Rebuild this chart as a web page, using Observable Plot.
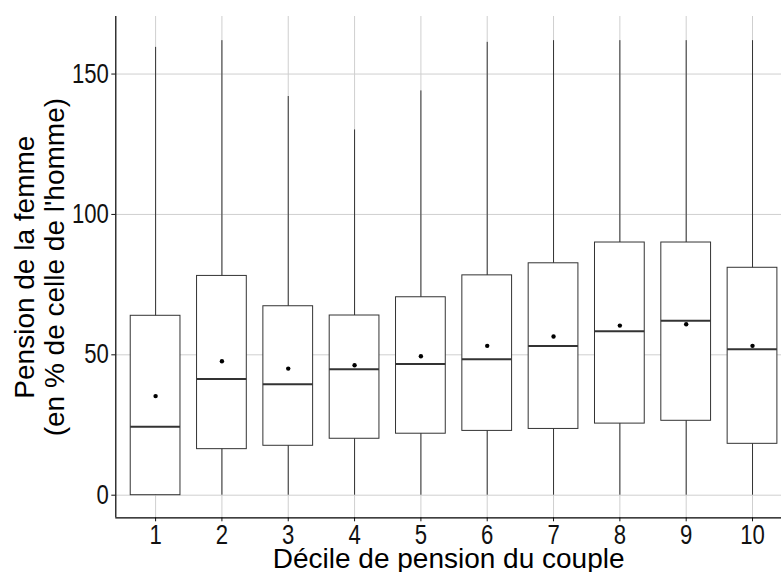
<!DOCTYPE html>
<html>
<head>
<meta charset="utf-8">
<script src="https://cdn.jsdelivr.net/npm/d3@7"></script>
<script src="https://cdn.jsdelivr.net/npm/@observablehq/plot@0.6"></script>
<style>
  html, body { margin: 0; padding: 0; background: #fff; overflow: hidden; }
  #chart svg { display: block; }
</style>
</head>
<body>
<div id="chart"></div>
<script>
const deciles = [1, 2, 3, 4, 5, 6, 7, 8, 9, 10];
const whiskerLow = [0, 0, 0, 0, 0, 0, 0, 0, 0, 0];
const q1 = [0, 16.4, 17.6, 20.1, 21.9, 22.9, 23.6, 25.5, 26.5, 18.3];
const median = [24.4, 41.4, 39.5, 44.9, 46.7, 48.4, 53.1, 58.4, 62.1, 52.0];
const q3 = [63.9, 78.1, 67.3, 64.0, 70.5, 78.3, 82.6, 90.0, 90.0, 81.0];
const whiskerHigh = [159.5, 161.9, 142.0, 130.1, 144.0, 161.3, 161.9, 161.9, 161.9, 161.9];
const mean = [35.3, 47.7, 45.1, 46.3, 49.5, 53.2, 56.5, 60.4, 60.9, 53.2];
const yTicks = [0, 50, 100, 150];
const xLabel = "Décile de pension du couple";
const yLabel1 = "Pension de la femme";
const yLabel2 = "(en % de celle de l'homme)";

const rows = deciles.map((d, i) => ({
  d, lo: whiskerLow[i], q1: q1[i], med: median[i], q3: q3[i], hi: whiskerHigh[i], mean: mean[i]
}));

const half = 0.375;
const xMin = 0.4, xMax = 10.437;
const yMin = -8.05, yMax = 170.5;
const titleFont = "'Liberation Sans', Arial, sans-serif";

const chart = Plot.plot({
  width: 781,
  height: 572,
  marginLeft: 115.3,
  marginRight: 0,
  marginTop: 16,
  marginBottom: 54.7,
  style: { fontFamily: titleFont, fontSize: "27px", color: "#111", background: "#fff" },
  x: { type: "linear", domain: [xMin, xMax], ticks: deciles, tickSize: 4, tickPadding: 3, label: null, tickFormat: d => String(d) },
  y: { type: "linear", domain: [yMin, yMax], ticks: yTicks, tickSize: 4, tickPadding: 3, label: null, tickFormat: d => String(d) },
  marks: [
    Plot.ruleY(yTicks, { stroke: "#cfcfcf", strokeWidth: 1 }),
    Plot.ruleX(deciles, { stroke: "#cfcfcf", strokeWidth: 1 }),
    Plot.ruleX(rows, { x: "d", y1: "lo", y2: "hi", stroke: "#333", strokeWidth: 1 }),
    Plot.rect(rows, { x1: r => r.d - half, x2: r => r.d + half, y1: "q1", y2: "q3", fill: "#fff", stroke: "#333", strokeWidth: 1 }),
    Plot.ruleY(rows, { y: "med", x1: r => r.d - half, x2: r => r.d + half, stroke: "#333", strokeWidth: 2 }),
    Plot.dot(rows, { x: "d", y: "mean", r: 2.2, fill: "#000", stroke: null }),
    Plot.ruleX([xMin], { stroke: "#000", strokeWidth: 1.2 }),
    Plot.ruleY([yMin], { stroke: "#000", strokeWidth: 1.2 }),
    Plot.text([xLabel], { frameAnchor: "bottom", dy: 41.7, lineAnchor: "middle", textAnchor: "middle", fontSize: 28, fontFamily: titleFont, fill: "#000" }),
    Plot.text([yLabel1], { frameAnchor: "left", dx: -91, rotate: -90, lineAnchor: "middle", textAnchor: "middle", fontSize: 28, fontFamily: titleFont, fill: "#000" }),
    Plot.text([yLabel2], { frameAnchor: "left", dx: -61, rotate: -90, lineAnchor: "middle", textAnchor: "middle", fontSize: 28, fontFamily: titleFont, fill: "#000" })
  ]
});
// condense tick labels horizontally (narrow face as in the reference)
d3.select(chart).selectAll('g[aria-label$="tick label"] text, g.tick text').each(function () {
  const t = this.getAttribute("transform") || "";
  this.setAttribute("transform", (t + " scale(0.82,1)").trim());
});
document.getElementById("chart").appendChild(chart);
</script>
</body>
</html>
